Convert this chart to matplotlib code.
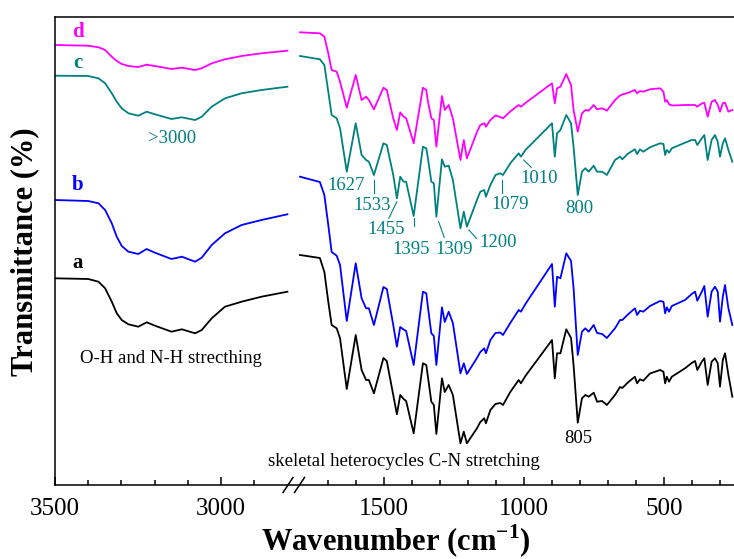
import numpy as np
import matplotlib
matplotlib.use("Agg")
import matplotlib.pyplot as plt
from matplotlib.ticker import FixedLocator, NullLocator, FixedFormatter

plt.rcParams['font.family'] = ['Liberation Serif', 'DejaVu Serif']
plt.rcParams['mathtext.fontset'] = 'custom'
plt.rcParams['mathtext.rm'] = 'Liberation Serif'
plt.rcParams['mathtext.bf'] = 'Liberation Serif:bold'

# ---------------- data (transmittance, arbitrary offset units) ----------------
wn_high = [3500, 3400, 3369, 3349, 3329, 3314, 3299, 3279, 3249, 3224,
           3199, 3149, 3118, 3078, 3058, 3028, 2988, 2938, 2878, 2800]
a_high = [206.7, 206, 203.3, 196.7, 183.3, 171.7, 165, 160.7, 158.3, 162.7,
          159.3, 153.3, 155.7, 151.7, 155, 166.7, 178.3, 183.3, 188.3, 193.3]
b_high = [285, 284, 281.7, 275, 261.7, 248.3, 239, 233.3, 231, 236,
          232.3, 226, 228.3, 223.3, 227.3, 240, 251.7, 260, 265, 270.7]
c_high = [409.3, 409, 406.7, 401.7, 391.7, 383.3, 376.7, 371.7, 369.3, 373.3,
          370.7, 366, 367.7, 365, 368.3, 378.3, 386.7, 391.7, 395, 398.3]
d_high = [440, 439.3, 437.7, 435, 428.3, 424, 421, 419, 418, 420.3,
          419, 416, 417.3, 415, 416.7, 421.7, 425.7, 429, 431.7, 434.3]

wn_low = [1800, 1729, 1713, 1699, 1687, 1669, 1657, 1633, 1601, 1580, 1564, 1554, 1536, 1502, 1490,
          1467, 1454, 1442, 1430, 1421, 1394, 1361, 1349, 1344, 1331, 1322, 1313, 1293, 1283, 1269,
          1254, 1227, 1215, 1204, 1168, 1156, 1142, 1136, 1120, 1102, 1085, 1075, 1049, 1019, 1011,
          995, 900, 890, 882, 870, 849, 832, 823, 808, 793, 781, 769, 751, 739, 721, 704, 675, 657,
          649, 627, 604, 596, 586, 574, 550, 514, 502, 496, 490, 482, 472, 425, 401, 389, 381, 365,
          356, 344, 330, 318, 308, 300, 290, 282, 270, 256]
a_low = [230, 227, 213, 183.3, 160, 156.7, 146.7, 96, 150, 115,
         105, 105, 91.7, 127, 124, 90, 70.7, 90, 86, 84,
         51.7, 121.7, 120, 110, 83.3, 80, 51, 106.7, 93, 100,
         90, 41.7, 53.3, 41.7, 56.7, 63, 66.7, 61.7, 75, 81,
         82, 80, 93, 105, 101.7, 109, 145, 106.7, 131.7, 131.7,
         155.7, 147, 120, 62.3, 86.7, 90, 88.3, 92.3, 83.3, 84,
         80, 90, 98, 97, 103, 108.3, 101.7, 105.7, 104.3, 111.5,
         115, 113.3, 101.7, 108.3, 103.3, 108.3, 116.7, 122, 124, 115,
         123.3, 126.7, 100, 123.3, 126.7, 121.7, 98.3, 125, 131.7, 110,
         88.3]
b_low = [308.3, 303, 290, 260, 233, 229.3, 220, 164, 221.7, 186.7,
         176.7, 176.7, 160, 198, 196, 160, 138.3, 158, 155.5, 154,
         120, 193.3, 191.7, 180, 151.7, 149, 120, 177.7, 163, 173.3,
         162, 111.7, 121.7, 111, 127, 133, 136.7, 131.7, 145, 152,
         152.5, 150, 162, 175, 173.3, 181, 221, 178.3, 208.3, 206.7,
         231.7, 224, 197, 130, 153.3, 156.7, 153.3, 160, 152, 151,
         147, 156.7, 165, 165, 171, 176.7, 170, 174.3, 173.3, 179,
         184, 183.3, 171.7, 177.7, 173.3, 179, 185, 191, 193.3, 184.3,
         193.3, 199, 168.3, 193.3, 198.3, 193.3, 163.3, 188.3, 200, 176.7,
         160]
c_low = [429, 425.7, 420, 393.3, 370, 366.7, 356.7, 313.3, 361.7, 330,
         325, 323.3, 310, 341.7, 340, 310, 286.7, 308.3, 303.3, 303.3,
         269, 338.3, 336.7, 328.3, 303.3, 301.7, 268.3, 325.7, 318.3, 319.3,
         305, 256.7, 273.3, 258.3, 285, 293.3, 295, 288.3, 300, 310,
         311.7, 310, 321.7, 331.7, 328.3, 335, 361.7, 328.3, 351.7, 355,
         370, 361.7, 338.3, 290, 313.3, 316.7, 313.3, 319.3, 313.3, 313.3,
         310, 325, 328.3, 325.7, 331.7, 335.7, 331, 335.7, 333.3, 337.7,
         341.7, 341, 330, 335, 332.3, 336.7, 342.3, 345, 345, 340,
         346.7, 350, 325, 345, 350, 343.3, 328.3, 341.7, 346.7, 335,
         323.3]
d_low = [452.7, 451.7, 448.3, 431.7, 415, 413.3, 403.3, 377.3, 410, 385,
         388.3, 385, 375.7, 397.3, 395, 366.7, 355, 372.7, 368.3, 367,
         341.7, 397.3, 395, 385, 366.7, 365, 338.3, 389, 375, 380,
         366.7, 325, 345, 326.7, 353, 360, 361.7, 358.3, 365, 369.5,
         368, 366.7, 373.5, 380, 378.3, 382, 401.7, 381.7, 396.7, 398.3,
         411, 400, 375, 353.3, 371.7, 375, 374.3, 380, 375.7, 376.7,
         374.3, 385, 389.5, 390.5, 392.3, 395, 391.7, 394, 393.3, 395.7,
         396.7, 393.3, 383.3, 385, 380.7, 379.5, 380, 380, 380, 378.3,
         381.5, 382.3, 368.3, 383.3, 385, 380, 373.3, 381.7, 382.3, 373.3,
         375]

series_names = ['a', 'b', 'c', 'd']
series_colors = ['#000000', '#0000FF', '#008080', '#FF00FF']

major_ticks = [3500, 3000, 1500, 1000, 500]
major_labels = ['3500', '3000', '1500', '1000', '500']
minor_ticks = [3400, 3300, 3200, 3100, 2900, 1700, 1600, 1400, 1300, 1200, 1100,
               900, 800, 700, 600, 400, 300]

teal_labels = ['1627', '1533', '1455', '1395', '1309', '1200', '1079', '1010', '800']
teal_label_pos = [(1634, 295), (1543, 275), (1491, 250.7), (1404, 231), (1248, 231),
                  (1093, 238.3), (1049, 275.7), (946, 302.3), (804, 271.7)]
leaders = [((1535, 305), (1535, 292.3)), ((1454, 283.3), (1483, 266.7)),
           ((1394, 267), (1394, 259)), ((1305, 263.3), (1285, 247.7)),
           ((1197, 255), (1170, 246.7)), ((1079, 305), (1079, 292.3)),
           ((1001, 325), (974, 317.7))]

# ---------------- broken-axis scale ----------------
_xp = np.array([-10000.0, 1800.0, 2800.0, 3500.0, 10000.0])
_fp = np.array([-(245 + 11800 * 0.28), -245.0, -232.4, 0.0, 6500 * 0.332])


def fwd(x):
    return np.interp(x, _xp, _fp)


def inv(u):
    return np.interp(u, _fp, _xp)


W, H = 734, 559
fig = plt.figure(figsize=(W / 100, H / 100), dpi=100)
ax = fig.add_axes([55 / W, 74 / H, 681.8 / W, 468.3 / H])
ax.set_xscale('function', functions=(fwd, inv))
ax.set_xlim(3500, 240)
ax.set_ylim(0, 468.3)

highs = [a_high, b_high, c_high, d_high]
lows = [a_low, b_low, c_low, d_low]
for name, col, yh, yl in zip(series_names, series_colors, highs, lows):
    ax.plot(wn_high, yh, color=col, lw=1.3, solid_joinstyle='round')
    ax.plot(wn_low, yl, color=col, lw=1.3, solid_joinstyle='round')

# spines / ticks
ax.spines['right'].set_visible(False)
for s in ['left', 'top', 'bottom']:
    ax.spines[s].set_linewidth(1.1)
ax.yaxis.set_major_locator(NullLocator())
ax.yaxis.set_minor_locator(NullLocator())
ax.xaxis.set_major_locator(FixedLocator(major_ticks))
ax.xaxis.set_major_formatter(FixedFormatter(major_labels))
ax.xaxis.set_minor_locator(FixedLocator(minor_ticks))
ax.tick_params(axis='x', which='major', direction='in', length=6, width=1.1,
               labelsize=18, pad=9.5)
ax.tick_params(axis='x', which='minor', direction='in', length=3.5, width=1.1)

# break marks
for xc in [(288 - 55) / 681.8, (299.5 - 55) / 681.8]:
    ax.plot([xc - 5 / 681.8, xc + 5 / 681.8], [-7.5 / 468.3, 7.5 / 468.3],
            transform=ax.transAxes, color='black', lw=1.1, clip_on=False)

# curve labels
lab_y = [217, 295, 417, 448]
for name, col, yy in zip(series_names, series_colors, lab_y):
    ax.text(3432, yy, name, color=col, fontsize=15, fontweight='bold',
            ha='center', va='baseline')

teal = '#008080'
ax.text(3146, 342, '>3000', color=teal, fontsize=13.5, ha='center', va='baseline')
for t, (x, y) in zip(teal_labels, teal_label_pos):
    ax.text(x, y, t, color=teal, fontsize=13.5, ha='center', va='baseline')
for (p0, p1) in leaders:
    ax.plot([p0[0], p1[0]], [p0[1], p1[1]], color=teal, lw=0.8)

ax.text(3151, 122, 'O-H and N-H strecthing', color='black', fontsize=13.5,
        ha='center', va='baseline')
ax.text(2858, 19.3, 'skeletal heterocycles C-N stretching', color='black',
        fontsize=13.5, ha='left', va='baseline')
ax.text(807, 42, '805', color='black', fontsize=13.5, ha='center', va='baseline')

fig.text(396 / W, 1 - 541 / H, r'Wavenumber (cm$^{\mathbf{-1}}$)', fontsize=22,
         fontweight='bold', ha='center', va='center')
fig.text(25 / W, 1 - 252 / H, 'Transmittance (%)', fontsize=22, fontweight='bold',
         rotation=90, ha='center', va='center')

fig.savefig('out.png', dpi=100)
